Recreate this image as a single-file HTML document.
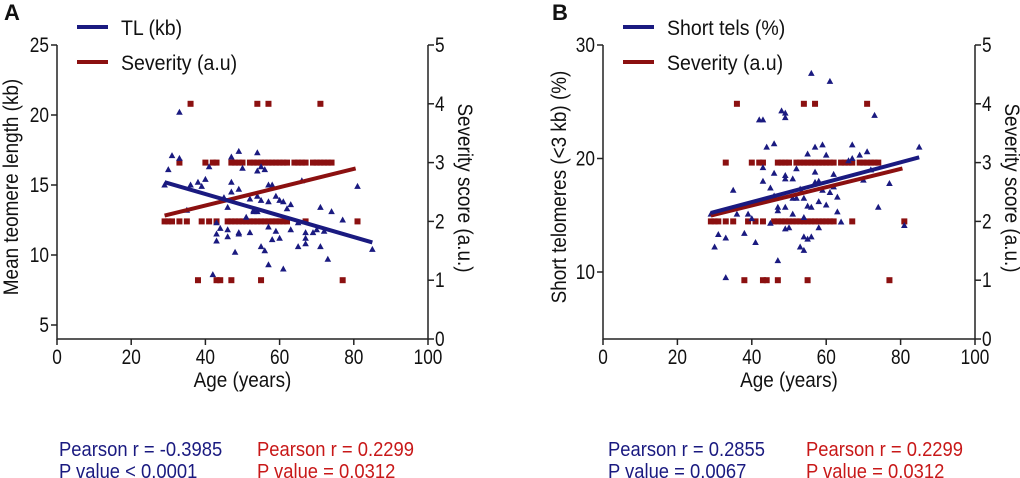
<!DOCTYPE html>
<html><head><meta charset="utf-8"><style>
html,body{margin:0;padding:0;background:#fff;}
svg{display:block;font-family:"Liberation Sans",Arial,sans-serif;}
</style></head><body>
<svg id="chart" width="1020" height="478" viewBox="0 0 1020 478" xmlns="http://www.w3.org/2000/svg"></svg>
<script>
// ---- data ----
const ageTicks = [0,20,40,60,80,100];
const tlTicks = [5,10,15,20,25];
const shortTicks = [10,20,30];
const sevTicks = [0,1,2,3,4,5];
const tlAge = [29,30,31,33,33,35,36,38,39,40,41,42,43,43,43,44,45,46,46,46,47,47,47,48,49,49,49,49,50,51,52,52,53,53,54,54,54,54,55,55,55,56,56,57,57,57,57,58,58,59,59,60,60,61,61,62,63,63,65,65,66,67,67,67,69,70,71,71,72,73,74,77,81,85];
const tlVal = [15.0,16.1,17.1,20.2,16.9,13.2,15.0,15.2,14.9,15.4,16.3,8.6,11.5,11.0,12.3,11.9,14.1,13.4,11.8,11.3,17.0,15.2,14.5,10.2,17.4,14.7,11.6,11.5,16.2,12.7,11.6,14.0,13.2,13.1,17.3,16.0,14.2,13.1,16.3,10.6,13.9,16.1,10.3,15.0,13.8,9.3,12.0,15.0,11.1,14.2,11.7,13.9,11.2,13.8,9.0,13.3,13.6,11.8,10.6,12.3,15.3,11.6,11.2,10.8,11.6,11.8,13.4,10.6,11.7,9.7,13.1,12.5,14.9,10.4];
const stAge = [29,30,31,33,33,35,36,38,39,40,41,42,43,43,43,44,45,45,46,46,46,47,47,47,48,49,49,49,49,49,49,50,51,51,51,52,52,53,53,54,54,54,54,55,55,55,56,56,56,57,57,57,58,58,58,59,59,60,60,61,61,62,62,63,63,64,66,67,67,69,70,71,72,73,74,77,81,85];
const stVal = [15.1,12.2,13.3,13.0,9.5,17.2,15.1,13.4,15.1,14.7,12.6,23.4,23.4,19.2,18.0,21.0,17.4,14.3,21.3,18.7,16.7,15.7,15.4,11.0,24.2,24.0,23.6,18.5,18.2,15.7,13.8,13.9,18.2,16.5,15.1,19.1,16.5,12.2,17.3,11.9,13.1,16.5,14.8,20.4,12.9,15.8,27.5,13.1,15.7,21.0,18.8,17.9,18.0,16.2,13.9,21.2,17.2,20.3,15.9,26.8,17.0,18.6,17.5,16.6,15.3,14.4,19.8,21.2,20.0,20.3,18.1,20.6,19.0,23.8,15.7,17.8,14.1,21.0];
const sevAge = [36,54,57,71, 33,40,42,43,47,48,49,50,52,53,54,55,56,57,58,59,60,61,62,64,65,66,67,69,70,71,72,73,74, 29,30,31,33,35,39,41,43,46,47,48,49,50,51,52,53,54,55,56,57,58,59,60,61,62,67,81, 38,43,44,47,55,77];
const sevVal = [4,4,4,4, 3,3,3,3,3,3,3,3,3,3,3,3,3,3,3,3,3,3,3,3,3,3,3,3,3,3,3,3,3, 2,2,2,2,2,2,2,2,2,2,2,2,2,2,2,2,2,2,2,2,2,2,2,2,2,2,2, 1,1,1,1,1,1];
const tlFitAge = [29,85];
const tlFitVal = [15.2,10.9];
const stFitAge = [29,85];
const stFitVal = [15.2,20.1];
const sevFitAge = [29,80.5];
const sevFitVal = [2.1,2.9];

const NS="http://www.w3.org/2000/svg";
const svg=document.getElementById('chart');
function mk(tag,attrs,parent){const e=document.createElementNS(NS,tag);for(const k in attrs)e.setAttribute(k,attrs[k]);(parent||svg).appendChild(e);return e;}
function txt(s,attrs,parent,sc){const e=mk('text',attrs,parent);e.textContent=s;
  if(sc){const w=e.getComputedTextLength();if(w>0){e.setAttribute('textLength',(w*sc).toFixed(1));e.setAttribute('lengthAdjust','spacingAndGlyphs');}}
  return e;}
const BLUE='#1a1a80', RED='#8b1010';

function panel(P){
  const g=mk('g',{});
  
  
  const x0=P.x0,x1=P.x1,yT=45,yB=339;
  const sx=a=>x0+(a-0)/100*(x1-x0);
  const sy=v=>yB-(v-P.ymin)/(P.ymax-P.ymin)*(yB-yT);
  const sr=v=>yB-v/5*(yB-yT);
  const ax=mk('path',{d:`M${x0},${yT}V${yB}H${x1}V${yT}`,fill:'none',stroke:'#222','stroke-width':1.5},g);
  
  ageTicks.forEach(t=>{
    mk('line',{x1:sx(t),x2:sx(t),y1:yB,y2:yB+6,stroke:'#222','stroke-width':1.5},g);
    const l=txt(t,{x:sx(t),y:yB+25,'font-size':21,'text-anchor':'middle',fill:'#111'},g,0.82);
    
  });
  P.lticks.forEach(t=>{
    mk('line',{x1:x0-6,x2:x0,y1:sy(t),y2:sy(t),stroke:'#222','stroke-width':1.5},g);
    const l=txt(t,{x:x0-8,y:sy(t)+7,'font-size':21,'text-anchor':'end',fill:'#111'},g,0.82);
    
  });
  sevTicks.forEach(t=>{
    mk('line',{x1:x1,x2:x1+6,y1:sr(t),y2:sr(t),stroke:'#222','stroke-width':1.5},g);
    const l=txt(t,{x:x1+7,y:sr(t)+7,'font-size':21,fill:'#111'},g,0.82);
    
  });
  const xt=txt('Age (years)',{x:(x0+x1)/2,y:yB+48,'font-size':21,'text-anchor':'middle',fill:'#111'},g,0.9);
  
  const ly=txt(P.ylabel,{transform:`translate(${P.ylx},187) rotate(-90)`,'font-size':21,'text-anchor':'middle',fill:'#111'},g,0.9);
  
  const ry=txt('Severity score (a.u.)',{transform:`translate(${x1+30},188) rotate(90)`,'font-size':21,'text-anchor':'middle',fill:'#111'},g,0.9);
  
  sevAge.forEach((a,i)=>{
    const r=mk('rect',{x:sx(a)-3,y:sr(sevVal[i])-3,width:6,height:6,fill:RED},g);
    
  });
  P.ax.forEach((a,i)=>{
    const cx=sx(a),cy=sy(P.av[i]);
    const p=mk('polygon',{points:`${cx},${cy-3.5} ${cx-3.3},${cy+2.5} ${cx+3.3},${cy+2.5}`,fill:BLUE},g);
    
  });
  const sf=mk('line',{x1:sx(sevFitAge[0]),y1:sr(sevFitVal[0]),x2:sx(sevFitAge[1]),y2:sr(sevFitVal[1]),stroke:RED,'stroke-width':4},g);
  
  const bf=mk('line',{x1:sx(P.fa[0]),y1:sy(P.fv[0]),x2:sx(P.fa[1]),y2:sy(P.fv[1]),stroke:BLUE,'stroke-width':4},g);
  
  const lx=P.legx;
  const l1=mk('g',{},g);
  mk('line',{x1:lx,x2:lx+31,y1:27,y2:27,stroke:BLUE,'stroke-width':4},l1);
  txt(P.leg1,{x:lx+44,y:35,'font-size':21,fill:'#111'},l1,0.93);
  const l2=mk('g',{},g);
  mk('line',{x1:lx,x2:lx+31,y1:62,y2:62,stroke:RED,'stroke-width':4},l2);
  txt('Severity (a.u)',{x:lx+44,y:70,'font-size':21,fill:'#111'},l2,0.93);
  const lt=txt(P.letter,{x:P.letx,y:20,'font-size':22,'font-weight':'bold',fill:'#111'},g);
  
  const s=[[P.st[0],P.stx,449,BLUE],[P.st[1],P.stx,471,BLUE],[P.st[2],P.stx+198,449,'#c81818'],[P.st[3],P.stx+198,471,'#c81818']];
  s.forEach(q=>{const t=txt(q[0],{x:q[1],y:q[2]+7,'font-size':20,fill:q[3]},g,0.92);
    });
}
panel({name:'panel-a',x0:57,x1:428,ymin:4,ymax:25,lticks:tlTicks,ylabel:'Mean teomere length (kb)',ylx:18,
  ax:tlAge,av:tlVal,fa:tlFitAge,fv:tlFitVal,legx:77,leg1:'TL (kb)',letter:'A',letx:4,
  st:['Pearson r = -0.3985','P value < 0.0001','Pearson r = 0.2299','P value = 0.0312'],stx:59});
panel({name:'panel-b',x0:603,x1:975,ymin:30-294/11.35,ymax:30,lticks:shortTicks,ylabel:'Short telomeres (<3 kb) (%)',ylx:566,
  ax:stAge,av:stVal,fa:stFitAge,fv:stFitVal,legx:623,leg1:'Short tels (%)',letter:'B',letx:552,
  st:['Pearson r = 0.2855','P value = 0.0067','Pearson r = 0.2299','P value = 0.0312'],stx:608});
</script>
</body></html>
